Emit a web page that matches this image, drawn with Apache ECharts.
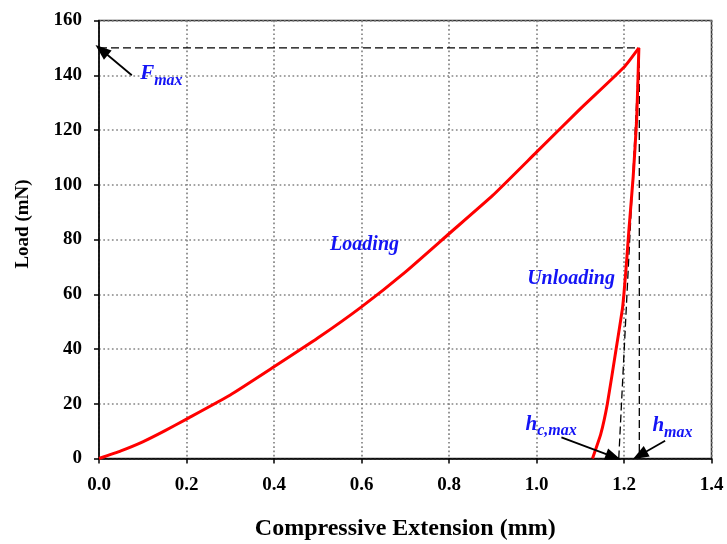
<!DOCTYPE html>
<html>
<head>
<meta charset="utf-8">
<script src="https://cdn.jsdelivr.net/npm/echarts@6/dist/echarts.min.js"></script>
<style>
  html, body { margin: 0; padding: 0; background: #fff; }
  #chart { width: 727px; height: 544px; }
</style>
</head>
<body>
<div id="chart"></div>
<script>
// Loading branch: extension (mm) vs load (mN)
const loadExt = [0, 0.05, 0.1, 0.15, 0.2, 0.3, 0.4, 0.5, 0.6, 0.7, 0.8, 0.9, 1.0, 1.1, 1.2, 1.234];
const loadVal = [0, 2.8, 6.1, 10.1, 14.4, 23.2, 33.5, 44.0, 55.4, 68.1, 82.1, 96.1, 111.9, 127.7, 142.9, 150];

// Unloading branch
const unloadExt = [1.234, 1.229, 1.221, 1.211, 1.205, 1.197, 1.182, 1.162, 1.147, 1.128];
const unloadVal = [150, 124, 103, 83, 70, 55.5, 40, 20, 9, 0];

// Characteristic values
const Fmax = 150;
const hmax = 1.235;
const hcmax = 1.188;

// Axis ticks
const xTicks = [0, 0.2, 0.4, 0.6, 0.8, 1.0, 1.2, 1.4];
const yTicks = [0, 20, 40, 60, 80, 100, 120, 140, 160];

const zip = (a, b) => a.map((v, i) => [v, b[i]]);

const SERIF = '"Liberation Serif", "Times New Roman", serif';
const BLUE = '#1414f5';

const dashed = { color: '#000', width: 1.3, type: [8, 4] };
const arrowStyle = { color: '#000', width: 1.8, type: 'solid' };

const chart = echarts.init(document.getElementById('chart'), null, { renderer: 'canvas' });

const subRich = (main, sub) => ({
  formatter: '{m|' + main + '}{s|' + sub + '}',
  rich: {
    m: { fontFamily: SERIF, fontWeight: 'bold', fontStyle: 'italic', fontSize: 21, color: BLUE, lineHeight: 20 },
    s: { fontFamily: SERIF, fontWeight: 'bold', fontStyle: 'italic', fontSize: 16, color: BLUE, lineHeight: 30, verticalAlign: 'bottom' }
  }
});

const textMark = (coord, label) => ({
  coord: coord,
  symbolSize: 0,
  label: Object.assign({ show: true, position: 'inside', align: 'left', verticalAlign: 'middle' }, label)
});

const plainLabel = (txt) => ({
  formatter: txt,
  fontFamily: SERIF, fontWeight: 'bold', fontStyle: 'italic', fontSize: 20, color: BLUE,
  align: 'center'
});

const option = {
  animation: false,
  backgroundColor: '#fff',
  grid: {
    left: 99, right: 15.5, top: 20.5, bottom: 85.5,
    outerBoundsMode: 'none',
    show: true, borderColor: '#333', borderWidth: 1.5, backgroundColor: 'transparent'
  },
  graphic: [{
    type: 'text',
    x: 23, y: 224,
    rotation: Math.PI / 2,
    style: {
      text: 'Load (mN)',
      font: 'bold 19px ' + SERIF,
      fill: '#000',
      align: 'center',
      verticalAlign: 'middle'
    }
  }],
  xAxis: {
    type: 'value',
    min: xTicks[0], max: xTicks[xTicks.length - 1], interval: 0.2,
    name: 'Compressive Extension (mm)',
    nameLocation: 'middle', nameGap: 58,
    nameTextStyle: { fontFamily: SERIF, fontWeight: 'bold', fontSize: 24, color: '#000' },
    axisLine: { show: true, onZero: false, lineStyle: { color: '#000', width: 1.5 } },
    axisTick: { show: true, inside: false, length: 5, lineStyle: { color: '#000', width: 1.5 } },
    axisLabel: {
      margin: 17, fontFamily: SERIF, fontWeight: 'bold', fontSize: 19, color: '#000',
      formatter: v => v.toFixed(1)
    },
    splitLine: { show: true, lineStyle: { color: '#858585', width: 1.7, type: [1.7, 2.6] } }
  },
  yAxis: {
    type: 'value',
    min: yTicks[0], max: yTicks[yTicks.length - 1], interval: 20,
    axisLine: { show: true, onZero: false, lineStyle: { color: '#000', width: 1.5 } },
    axisTick: { show: true, inside: false, length: 5, lineStyle: { color: '#000', width: 1.5 } },
    axisLabel: {
      margin: 17, fontFamily: SERIF, fontWeight: 'bold', fontSize: 19, color: '#000'
    },
    splitLine: { show: true, lineStyle: { color: '#858585', width: 1.7, type: [1.7, 2.6] } }
  },
  series: [
    {
      name: 'Fmax line', type: 'line', symbol: 'none', silent: true,
      data: [[0, Fmax], [hmax, Fmax]],
      lineStyle: dashed, z: 3
    },
    {
      name: 'hmax line', type: 'line', symbol: 'none', silent: true,
      data: [[hmax, Fmax], [hmax, 0]],
      lineStyle: dashed, z: 3
    },
    {
      name: 'Tangent', type: 'line', symbol: 'none', silent: true,
      data: [[hcmax, 0], [hmax, Fmax]],
      lineStyle: dashed, z: 3
    },
    {
      name: 'Loading', type: 'line', symbol: 'none', smooth: 0.15,
      data: zip(loadExt, loadVal),
      lineStyle: { color: '#ff0000', width: 3, join: 'round' }, z: 4,
      markPoint: {
        silent: true,
        data: [
          textMark([0.607, 78.2], plainLabel('Loading')),
          textMark([1.079, 65.5], plainLabel('Unloading')),
          textMark([0.094, 140.5], subRich('F', 'max')),
          textMark([0.975, 12.5], subRich('h', 'c,max')),
          textMark([1.265, 12.0], subRich('h', 'max'))
        ]
      },
      markLine: {
        silent: true,
        symbol: ['none', 'triangle'],
        symbolSize: [12, 16],
        label: { show: false },
        lineStyle: arrowStyle,
        data: [
          [{ coord: [0.075, 140.0] }, { coord: [0.006, 149.2] }],
          [{ coord: [1.057, 7.7] }, { coord: [1.176, 0.6] }],
          [{ coord: [1.294, 6.5] }, { coord: [1.236, 1.2] }]
        ]
      }
    },
    {
      name: 'Unloading', type: 'line', symbol: 'none', smooth: 0.15,
      data: zip(unloadExt, unloadVal),
      lineStyle: { color: '#ff0000', width: 3, join: 'round' }, z: 4
    }
  ]
};

chart.setOption(option);
</script>
</body>
</html>
